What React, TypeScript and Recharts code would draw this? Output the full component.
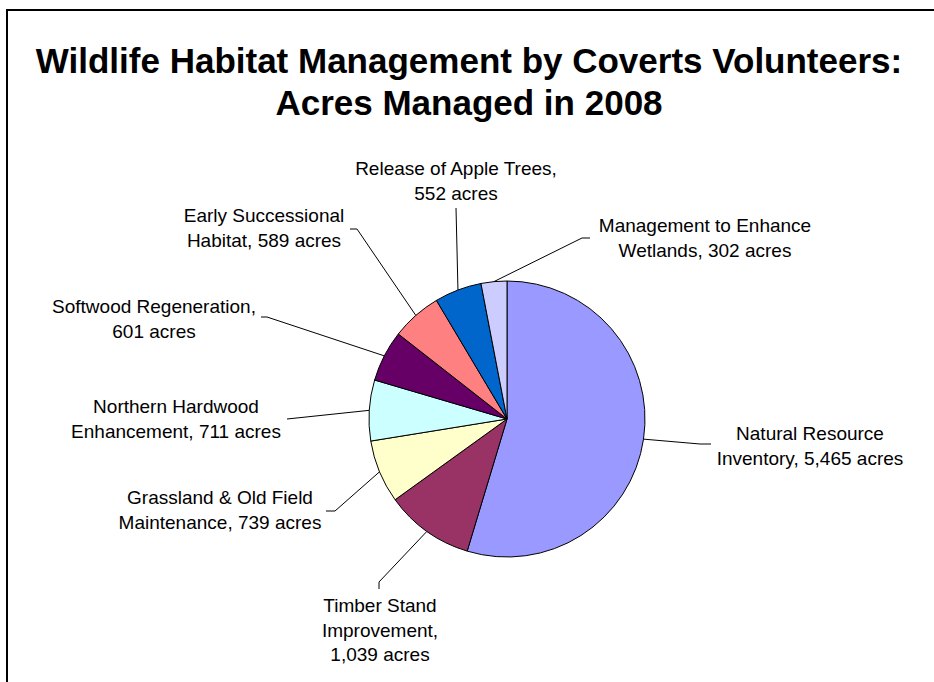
import { PieChart, Pie, Cell } from 'recharts'

const categories = [
  'Natural Resource Inventory',
  'Timber Stand Improvement',
  'Grassland & Old Field Maintenance',
  'Northern Hardwood Enhancement',
  'Softwood Regeneration',
  'Early Successional Habitat',
  'Release of Apple Trees',
  'Management to Enhance Wetlands'
]

const acres = [5465, 1039, 739, 711, 601, 589, 552, 302]

// label text, split the way the original wraps it
const labelLines = [
  ['Natural Resource', 'Inventory, 5,465 acres'],
  ['Timber Stand', 'Improvement,', '1,039 acres'],
  ['Grassland & Old Field', 'Maintenance, 739 acres'],
  ['Northern Hardwood', 'Enhancement, 711 acres'],
  ['Softwood Regeneration,', '601 acres'],
  ['Early Successional', 'Habitat, 589 acres'],
  ['Release of Apple Trees,', '552 acres'],
  ['Management to Enhance', 'Wetlands, 302 acres']
]

const COLORS = ['#9999FF', '#993366', '#FFFFCC', '#CCFFFF', '#660066', '#FF8080', '#0066CC', '#CCCCFF']

// label placement relative to pie centre: elbow, line end, text centre
const labelLayout = [
  { elbow: [193, 25], end: [204, 25], text: [303, 27] },
  { elbow: [-128, 163], end: [-128, 170], text: [-127, 211] },
  { elbow: [-172, 92], end: [-181, 92], text: [-287, 91] },
  { elbow: [-220, 0], end: [-220, 0], text: [-331, 0] },
  { elbow: [-240, -102], end: [-246, -102], text: [-353, -100] },
  { elbow: [-150, -190], end: [-157, -190], text: [-243, -191] },
  { elbow: [-51, -211], end: [-51, -211], text: [-51, -238] },
  { elbow: [75, -181], end: [83, -181], text: [198, -181] }
]

const data = categories.map((name, i) => ({ name, value: acres[i] }))

const RADIAN = Math.PI / 180
const LINE_H = 24.5
const FONT = '"Liberation Sans", Arial, sans-serif'

const renderLabel = (props: any) => {
  const { cx, cy, midAngle, outerRadius, index } = props
  const sx = cx + outerRadius * Math.cos(-midAngle * RADIAN)
  const sy = cy + outerRadius * Math.sin(-midAngle * RADIAN)
  const l = labelLayout[index]
  const lines = labelLines[index]
  const tx = cx + l.text[0]
  const ty = cy + l.text[1] - ((lines.length - 1) * LINE_H) / 2
  return (
    <g>
      <polyline
        points={`${sx},${sy} ${cx + l.elbow[0]},${cy + l.elbow[1]} ${cx + l.end[0]},${cy + l.end[1]}`}
        fill="none"
        stroke="#000"
        strokeWidth={1}
      />
      {lines.map((t, k) => (
        <text
          key={k}
          x={tx}
          y={ty + k * LINE_H}
          textAnchor="middle"
          dominantBaseline="central"
          fontFamily={FONT}
          fontSize={19}
          fill="#000"
        >
          {t}
        </text>
      ))}
    </g>
  )
}

export default function App() {
  return (
    <div style={{ position: 'absolute', left: 0, top: 0, width: 934, height: 682, overflow: 'hidden', background: '#fff' }}>
      <div
        style={{
          position: 'absolute',
          left: 6,
          top: 9,
          width: 1000,
          height: 1000,
          border: '2px solid #000'
        }}
      />
      <div
        style={{
          position: 'absolute',
          left: 2,
          top: 40,
          width: 934,
          textAlign: 'center',
          fontFamily: FONT,
          fontWeight: 'bold',
          fontSize: 35,
          lineHeight: '42px',
          color: '#000'
        }}
      >
        Wildlife Habitat Management by Coverts Volunteers:
        <br />
        Acres Managed in 2008
      </div>
      <div style={{ position: 'absolute', left: 0, top: 0 }}>
        <PieChart width={934} height={682}>
          <Pie
            data={data}
            cx={502}
            cy={414}
            outerRadius={138}
            startAngle={90}
            endAngle={-270}
            dataKey="value"
            stroke="#000"
            strokeWidth={1}
            label={renderLabel}
            labelLine={false}
            isAnimationActive={false}
          >
            {data.map((entry, index) => (
              <Cell key={`cell-${index}`} fill={COLORS[index % COLORS.length]} />
            ))}
          </Pie>
        </PieChart>
      </div>
    </div>
  )
}
